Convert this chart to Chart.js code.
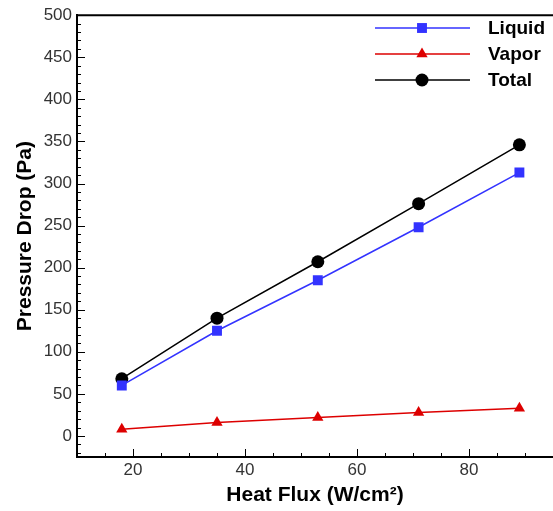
<!DOCTYPE html>
<html>
<head>
<meta charset="utf-8">
<script src="https://cdn.jsdelivr.net/npm/chart.js@4"></script>
<style>
  html, body { margin: 0; padding: 0; background: #fff; }
  #wrap { width: 553px; height: 511px; }
</style>
</head>
<body>
<div id="wrap"><canvas id="chart" width="553" height="511"></canvas></div>
<script>
// Data
const heatFlux = [18, 35, 53, 71, 89];
const liquid = [60, 125, 185, 248, 313];
const vapor = [8, 16, 22, 28, 33];
const total = [68, 140, 207, 276, 346];
const seriesNames = ['Liquid', 'Vapor', 'Total'];
const xTicks = [20, 40, 60, 80];
const yTicks = [0, 50, 100, 150, 200, 250, 300, 350, 400, 450, 500];

const font = "'Liberation Sans', Arial, sans-serif";
const colors = ['#3333ff', '#dd0000', '#000000'];
const markers = ['rect', 'triangle', 'circle'];
const radii = [7, 6.5, 6.5];

// inward ticks + top border
const frame = {
    id: 'frame',
    afterDraw(chart) {
        const { ctx, chartArea: a, scales } = chart;
        const x = scales.x, y = scales.y;
        ctx.save();
        ctx.strokeStyle = '#000';
        ctx.lineWidth = 2;
        ctx.beginPath();
        ctx.moveTo(a.left, a.top);
        ctx.lineTo(a.right, a.top);
        ctx.stroke();
        ctx.lineWidth = 1;
        for (let v = -20; v <= 500; v += 10) {
            const py = Math.round(y.getPixelForValue(v)) + 0.5;
            const len = v % 50 === 0 ? 8 : 4;
            ctx.beginPath();
            ctx.moveTo(a.left, py);
            ctx.lineTo(a.left + len, py);
            ctx.stroke();
        }
        for (let v = 15; v <= 95; v += 5) {
            const px = Math.round(x.getPixelForValue(v)) + 0.5;
            const len = v % 20 === 0 ? 8 : 4;
            ctx.beginPath();
            ctx.moveTo(px, a.bottom);
            ctx.lineTo(px, a.bottom - len);
            ctx.stroke();
        }
        ctx.restore();
    }
};

// legend drawn as line + marker + label
const legendBox = {
    id: 'legendBox',
    afterDraw(chart) {
        const { ctx } = chart;
        ctx.save();
        ctx.font = "bold 19px " + font;
        ctx.textBaseline = 'middle';
        chart.data.datasets.forEach((ds, i) => {
            const yy = 28 + i * 26;
            ctx.strokeStyle = ds.borderColor;
            ctx.lineWidth = 1.5;
            ctx.beginPath();
            ctx.moveTo(375, yy);
            ctx.lineTo(470, yy);
            ctx.stroke();
            ctx.fillStyle = ds.borderColor;
            Chart.helpers.drawPoint(ctx, {
                pointStyle: ds.pointStyle, radius: ds.pointRadius, rotation: 0, borderWidth: 0
            }, 422, yy);
            ctx.fillStyle = '#000';
            ctx.fillText(ds.label, 488, yy + 1);
        });
        ctx.restore();
    }
};

const seriesData = [liquid, vapor, total];

new Chart(document.getElementById('chart'), {
    type: 'line',
    data: {
        datasets: seriesNames.map((name, i) => ({
            label: name,
            data: heatFlux.map((h, k) => ({ x: h, y: seriesData[i][k] })),
            borderColor: colors[i],
            backgroundColor: colors[i],
            borderWidth: 1.5,
            pointStyle: markers[i],
            pointRadius: radii[i],
            pointBorderWidth: 0,
            tension: 0
        }))
    },
    options: {
        responsive: false,
        animation: false,
        layout: { autoPadding: false, padding: { top: 15, right: 0, left: 0, bottom: 0 } },
        plugins: { legend: { display: false }, tooltip: { enabled: false } },
        scales: {
            x: {
                type: 'linear',
                min: 10,
                max: 95,
                afterBuildTicks: s => { s.ticks = xTicks.map(v => ({ value: v })); },
                afterFit: s => { s.height = 54; },
                grid: { display: false, drawTicks: false },
                border: { display: true, color: '#000', width: 2 },
                ticks: { color: '#333', font: { family: font, size: 17 }, padding: 3 },
                title: {
                    display: true,
                    text: 'Heat Flux (W/cm²)',
                    color: '#000',
                    font: { family: font, size: 21, weight: 'bold' },
                    padding: { top: 0, bottom: 3 }
                }
            },
            y: {
                type: 'linear',
                min: -25,
                max: 500,
                afterBuildTicks: s => { s.ticks = yTicks.map(v => ({ value: v })); },
                afterFit: s => { s.width = 77; },
                grid: { display: false, drawTicks: false },
                border: { display: true, color: '#000', width: 2 },
                ticks: { color: '#333', font: { family: font, size: 17 }, padding: 5 },
                title: {
                    display: true,
                    text: 'Pressure Drop (Pa)',
                    color: '#000',
                    font: { family: font, size: 21, weight: 'bold' },
                    padding: { top: 13, bottom: 0 }
                }
            }
        }
    },
    plugins: [frame, legendBox]
});
</script>
</body>
</html>
